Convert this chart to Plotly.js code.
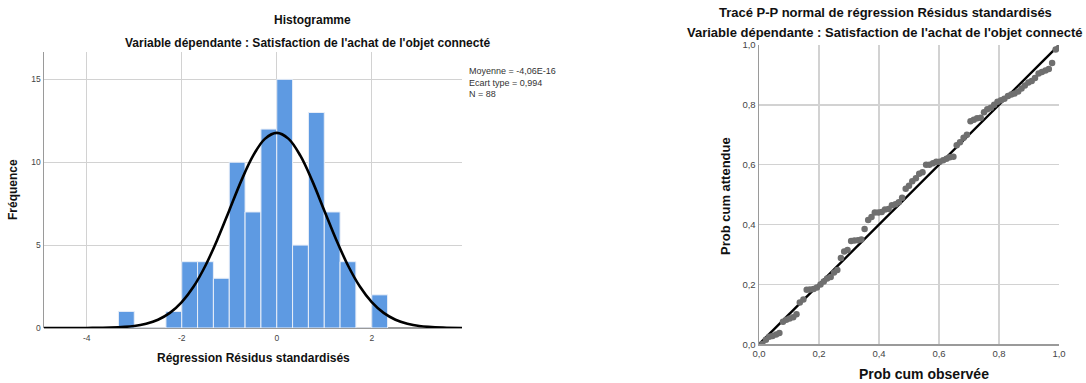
<!DOCTYPE html>
<html>
<head>
<meta charset="utf-8">
<script src="https://cdn.plot.ly/plotly-3.0.1.min.js"></script>
<style>html,body{margin:0;padding:0;background:#fff;}#chart{width:1086px;height:383px;}</style>
</head>
<body>
<div id="chart"></div>
<script>
// ---- Histogram data (bins of width 1/3) ----
const binStarts = [-3.333,-3.0,-2.667,-2.333,-2.0,-1.667,-1.333,-1.0,-0.667,-0.333,0.0,0.333,0.667,1.0,1.333,1.667,2.0];
const binCounts = [1,0,0,1,4,4,3,10,7,12,15,5,13,7,4,0,2];
const binWidth = 1/3;

// ---- Normal curve values ----
const curveX = [-4.9,-4.5,-4,-3.5,-3,-2.75,-2.5,-2.25,-2,-1.75,-1.5,-1.25,-1,-0.75,-0.5,-0.25,0,0.25,0.5,0.75,1,1.25,1.5,1.75,2,2.25,2.5,2.75,3,3.5,3.9];
const curveY = [0.0,0.001,0.004,0.024,0.12,0.26,0.50,0.91,1.56,2.50,3.77,5.34,7.09,8.86,10.38,11.41,11.77,11.41,10.38,8.86,7.09,5.34,3.77,2.50,1.56,0.91,0.50,0.26,0.12,0.024,0.002];

const statsLines = ["Moyenne = -4,06E-16","Ecart type = 0,994","N = 88"];

// ---- P-P plot data ----
const ppObserved = [0.011,0.023,0.034,0.045,0.057,0.068,0.080,0.091,0.102,0.114,
0.125,0.136,0.148,0.159,0.170,0.182,0.193,0.205,0.216,0.227,
0.239,0.250,0.261,0.273,0.284,0.295,0.307,0.318,0.330,0.341,
0.352,0.364,0.375,0.386,0.398,0.409,0.420,0.432,0.443,0.455,
0.466,0.477,0.489,0.500,0.511,0.523,0.534,0.545,0.557,0.568,
0.580,0.591,0.602,0.614,0.625,0.636,0.648,0.659,0.670,0.682,
0.693,0.705,0.716,0.727,0.739,0.750,0.761,0.773,0.784,0.795,
0.807,0.818,0.830,0.841,0.852,0.864,0.875,0.886,0.898,0.909,
0.920,0.932,0.943,0.955,0.966,0.977,0.989,1.000];
const ppExpected = [0.001,0.015,0.025,0.028,0.033,0.038,0.075,0.082,0.086,0.090,
0.100,0.140,0.150,0.182,0.183,0.185,0.190,0.200,0.210,0.220,
0.225,0.240,0.248,0.288,0.310,0.315,0.345,0.347,0.348,0.350,
0.385,0.415,0.425,0.440,0.440,0.442,0.450,0.452,0.465,0.468,
0.475,0.490,0.520,0.530,0.545,0.555,0.570,0.575,0.600,0.600,
0.605,0.610,0.610,0.615,0.620,0.625,0.627,0.665,0.675,0.690,
0.700,0.745,0.750,0.755,0.757,0.775,0.785,0.790,0.800,0.810,
0.815,0.820,0.830,0.835,0.838,0.845,0.855,0.865,0.875,0.880,
0.890,0.905,0.910,0.915,0.920,0.940,0.985,0.990];
const refLine = [0,1];

const ppTicks = [0,0.2,0.4,0.6,0.8,1.0];
const ppTickText = ["0,0","0,2","0,4","0,6","0,8","1,0"];
const histXTicks = [-4,-2,0,2];
const histYTicks = [0,5,10,15];

const W = 1086, H = 383;
const px = v => v / W;
const py = v => (H - v) / H;

const FONT = "Liberation Sans, Arial, sans-serif";

const traces = [
  {
    type: 'bar', x: binStarts, y: binCounts, width: binWidth, offset: 0,
    marker: {color: '#5e9ae2', line: {color: '#e8eef8', width: 1}},
    xaxis: 'x', yaxis: 'y', hoverinfo: 'none'
  },
  {
    type: 'scatter', mode: 'lines', x: curveX, y: curveY,
    line: {color: '#000', width: 2.6, shape: 'spline', smoothing: 1},
    xaxis: 'x', yaxis: 'y', hoverinfo: 'none'
  },
  {
    type: 'scatter', mode: 'lines', x: refLine, y: refLine,
    line: {color: '#000', width: 2.4},
    xaxis: 'x2', yaxis: 'y2', hoverinfo: 'none'
  },
  {
    type: 'scatter', mode: 'markers', x: ppObserved, y: ppExpected,
    marker: {color: '#6f6f6f', size: 6.5},
    xaxis: 'x2', yaxis: 'y2', hoverinfo: 'none'
  }
];

const tickFont = {family: FONT, size: 8.5, color: '#444'};
const ppTickFont = {family: FONT, size: 9.5, color: '#444'};

const layout = {
  width: W, height: H,
  margin: {l: 0, r: 0, t: 0, b: 0},
  paper_bgcolor: '#fff', plot_bgcolor: '#fff',
  showlegend: false,
  bargap: 0,
  xaxis: {
    domain: [px(44), px(462)], range: [-4.9, 3.9],
    tickvals: histXTicks, ticktext: histXTicks.map(v => v < 0 ? '-' + Math.abs(v) : String(v)),
    showgrid: true, gridcolor: '#d2d2d2', gridwidth: 1,
    zeroline: false, showline: false, ticks: '', tickfont: tickFont, ticklabelstandoff: 3,
    anchor: 'y', fixedrange: true
  },
  yaxis: {
    domain: [py(328), py(52)], range: [0, 16.65],
    tickvals: histYTicks, showgrid: true, gridcolor: '#d2d2d2', gridwidth: 1,
    zeroline: true, zerolinecolor: '#9a9a9a', zerolinewidth: 1.5,
    showline: true, linecolor: '#9a9a9a', linewidth: 1.5, ticks: '', tickfont: tickFont,
    anchor: 'x', fixedrange: true
  },
  xaxis2: {
    domain: [px(759), px(1059)], range: [0, 1],
    tickvals: ppTicks, ticktext: ppTickText,
    showgrid: true, gridcolor: '#d2d2d2', gridwidth: 1.5,
    zeroline: false, showline: true, linecolor: '#9a9a9a', linewidth: 1.5, mirror: false,
    ticks: '', tickfont: ppTickFont, anchor: 'y2', fixedrange: true
  },
  yaxis2: {
    domain: [py(344.3), py(45)], range: [0, 1],
    tickvals: ppTicks, ticktext: ppTickText,
    showgrid: true, gridcolor: '#d2d2d2', gridwidth: 1.5,
    zeroline: false, showline: true, linecolor: '#9a9a9a', linewidth: 1.5,
    ticks: '', tickfont: ppTickFont, anchor: 'x2', fixedrange: true
  },
  annotations: [
    {text: '<b>Histogramme</b>', xref: 'paper', yref: 'paper', x: px(312), y: py(20),
     xanchor: 'center', yanchor: 'middle', showarrow: false, font: {family: FONT, size: 12, color: '#111'}},
    {text: "<b>Variable dépendante : Satisfaction de l'achat de l'objet connecté</b>", xref: 'paper', yref: 'paper',
     x: px(307), y: py(43), xanchor: 'center', yanchor: 'middle', showarrow: false, font: {family: FONT, size: 12, color: '#111'}},
    {text: '<b>Fréquence</b>', xref: 'paper', yref: 'paper', x: px(13), y: py(190), textangle: -90,
     xanchor: 'center', yanchor: 'middle', showarrow: false, font: {family: FONT, size: 12, color: '#111'}},
    {text: '<b>Régression Résidus standardisés</b>', xref: 'paper', yref: 'paper', x: px(253), y: py(358),
     xanchor: 'center', yanchor: 'middle', showarrow: false, font: {family: FONT, size: 12, color: '#111'}},
    {text: statsLines.join('<br>'), xref: 'paper', yref: 'paper', x: px(467), y: py(64),
     xanchor: 'left', yanchor: 'top', align: 'left', showarrow: false, font: {family: FONT, size: 9, color: '#333'}},
    {text: '<b>Tracé P-P normal de régression Résidus standardisés</b>', xref: 'paper', yref: 'paper', x: px(885), y: py(12),
     xanchor: 'center', yanchor: 'middle', showarrow: false, font: {family: FONT, size: 13, color: '#111'}},
    {text: "<b>Variable dépendante : Satisfaction de l'achat de l'objet connecté</b>", xref: 'paper', yref: 'paper',
     x: px(885), y: py(33), xanchor: 'center', yanchor: 'middle', showarrow: false, font: {family: FONT, size: 13, color: '#111'}},
    {text: '<b>Prob cum attendue</b>', xref: 'paper', yref: 'paper', x: px(725), y: py(196), textangle: -90,
     xanchor: 'center', yanchor: 'middle', showarrow: false, font: {family: FONT, size: 13, color: '#111'}},
    {text: '<b>Prob cum observée</b>', xref: 'paper', yref: 'paper', x: px(924), y: py(374),
     xanchor: 'center', yanchor: 'middle', showarrow: false, font: {family: FONT, size: 14, color: '#111'}}
  ]
};

Plotly.newPlot('chart', traces, layout, {staticPlot: true, displayModeBar: false});
</script>
</body>
</html>
